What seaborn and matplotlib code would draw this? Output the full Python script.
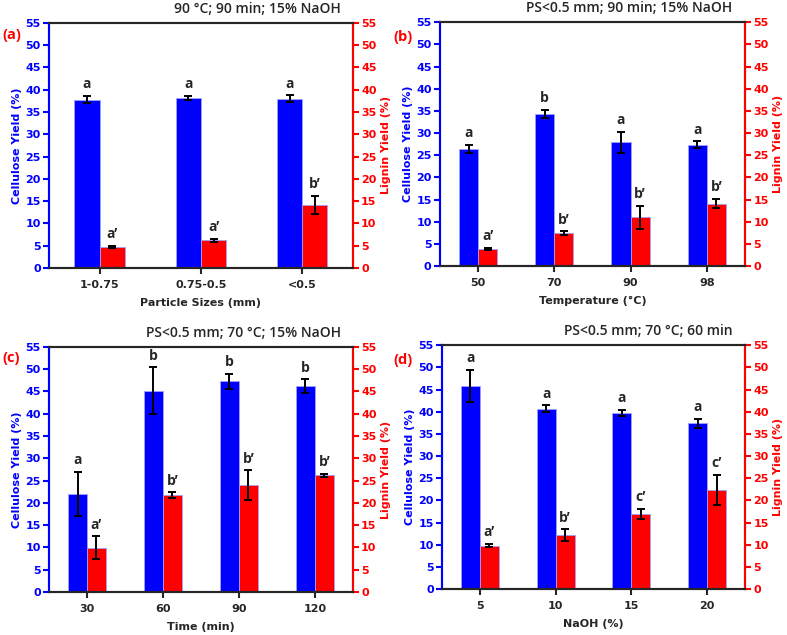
import pandas as pd
import numpy as np
import matplotlib.pyplot as plt
import seaborn as sns

# panel (a) - particle size
ps_cats = ["1-0.75", "0.75-0.5", "<0.5"]
ps_cel = [37.8, 38.1, 38.0]
ps_cel_err = [0.8, 0.5, 0.8]
ps_lig = [4.7, 6.2, 14.2]
ps_lig_err = [0.3, 0.4, 2.0]
ps_cel_let = ["a", "a", "a"]
ps_lig_let = ["a\u2019", "a\u2019", "b\u2019"]

# panel (b) - temperature
temp_cats = ["50", "70", "90", "98"]
temp_cel = [26.5, 34.4, 27.9, 27.4]
temp_cel_err = [0.9, 0.9, 2.4, 0.8]
temp_lig = [3.9, 7.4, 11.0, 14.1]
temp_lig_err = [0.2, 0.4, 2.6, 1.1]
temp_cel_let = ["a", "b", "a", "a"]
temp_lig_let = ["a\u2019", "b\u2019", "b\u2019", "b\u2019"]

# panel (c) - time
time_cats = ["30", "60", "90", "120"]
time_cel = [22.0, 45.2, 47.3, 46.2]
time_cel_err = [5.0, 5.2, 1.7, 1.6]
time_lig = [9.9, 21.7, 24.0, 26.2]
time_lig_err = [2.6, 0.7, 3.3, 0.3]
time_cel_let = ["a", "b", "b", "b"]
time_lig_let = ["a\u2019", "b\u2019", "b\u2019", "b\u2019"]

# panel (d) - NaOH
naoh_cats = ["5", "10", "15", "20"]
naoh_cel = [45.8, 40.7, 39.7, 37.4]
naoh_cel_err = [3.7, 0.8, 0.7, 1.0]
naoh_lig = [9.8, 12.2, 17.0, 22.4]
naoh_lig_err = [0.4, 1.3, 1.1, 3.4]
naoh_cel_let = ["a", "a", "a", "a"]
naoh_lig_let = ["a\u2019", "b\u2019", "c\u2019", "c\u2019"]

sns.set_style("ticks")
plt.rcParams["font.family"] = ["DejaVu Sans"]

BLUE = "#0000FF"
RED = "#FF0000"
OPEN = ["Open Sans", "DejaVu Sans"]

fig = plt.figure(figsize=(7.87, 6.35), dpi=100)

panels = [
    ("(a)", "90 \u00b0C; 90 min; 15% NaOH", "Particle Sizes (mm)", ps_cats,
     ps_cel, ps_cel_err, ps_lig, ps_lig_err, ps_cel_let, ps_lig_let,
     [0.0623, 0.578, 0.386, 0.386], (0.003, 0.945)),
    ("(b)", "PS<0.5 mm; 90 min; 15% NaOH", "Temperature (\u00b0C)", temp_cats,
     temp_cel, temp_cel_err, temp_lig, temp_lig_err, temp_cel_let, temp_lig_let,
     [0.559, 0.581, 0.3875, 0.384], (0.4995, 0.942)),
    ("(c)", "PS<0.5 mm; 70 \u00b0C; 15% NaOH", "Time (min)", time_cats,
     time_cel, time_cel_err, time_lig, time_lig_err, time_cel_let, time_lig_let,
     [0.0623, 0.0677, 0.386, 0.386], (0.003, 0.436)),
    ("(d)", "PS<0.5 mm; 70 \u00b0C; 60 min", "NaOH (%)", naoh_cats,
     naoh_cel, naoh_cel_err, naoh_lig, naoh_lig_err, naoh_cel_let, naoh_lig_let,
     [0.5616, 0.0724, 0.385, 0.384], (0.4995, 0.433)),
]

for (tag, title, xlab, cats, cel, cel_err, lig, lig_err,
     cel_let, lig_let, pos, tagpos) in panels:
    ax = fig.add_axes(pos)
    df = pd.DataFrame({
        "cat": cats * 2,
        "val": cel + lig,
        "err": cel_err + lig_err,
        "let": cel_let + lig_let,
        "series": ["Cellulose"] * len(cats) + ["Lignin"] * len(cats),
    })
    sns.barplot(data=df, x="cat", y="val", hue="series", ax=ax,
                palette=[BLUE, RED], saturation=1, width=0.5,
                errorbar=None, legend=False, edgecolor="#a0a0ff", linewidth=0.6)

    # error bars + significance letters
    for cont, s in zip(ax.containers, ["Cellulose", "Lignin"]):
        sub = df[df["series"] == s]
        for bar, (_, row) in zip(cont, sub.iterrows()):
            xc = bar.get_x() + bar.get_width() / 2
            h = bar.get_height()
            ax.errorbar(xc, h, yerr=row["err"], fmt="none", ecolor="black",
                        elinewidth=1.4, capsize=3, capthick=1.4, zorder=5)
            ax.text(xc, h + row["err"] + 1.0, row["let"], ha="center",
                    va="bottom", fontsize=10, fontweight="bold", family=OPEN)

    ax.set_xlim(-0.5, len(cats) - 0.5)
    ax.set_ylim(0, 55)
    ax.set_yticks(np.arange(0, 56, 5))
    ax.set_xlabel(xlab, fontsize=8, fontweight="bold", labelpad=6)
    ax.set_ylabel("Cellulose Yield (%)", fontsize=8, fontweight="bold",
                  color=BLUE, labelpad=2)
    ax.tick_params(axis="y", colors=BLUE, labelsize=8, width=1.5, length=4.5,
                   pad=1.5)
    ax.tick_params(axis="x", labelsize=8, width=1.5, length=4.5, pad=4)
    for lab in ax.get_yticklabels() + ax.get_xticklabels():
        lab.set_fontweight("bold")
    ax.spines["left"].set_color(BLUE)
    for sp in ax.spines.values():
        sp.set_linewidth(1.5)

    ax2 = ax.twinx()
    ax2.set_ylim(0, 55)
    ax2.set_yticks(np.arange(0, 56, 5))
    ax2.set_ylabel("Lignin Yield (%)", fontsize=8, fontweight="bold",
                   color=RED, labelpad=3)
    ax2.tick_params(axis="y", colors=RED, labelsize=8, width=1.5, length=4.5,
                    pad=1.5)
    for lab in ax2.get_yticklabels():
        lab.set_fontweight("bold")
    ax2.spines["right"].set_color(RED)
    ax2.spines["left"].set_color(BLUE)
    for sp in ax2.spines.values():
        sp.set_linewidth(1.5)

    ax.text(0.96, 1.03, title, transform=ax.transAxes, ha="right",
            va="bottom", fontsize=10, fontweight="semibold", family=OPEN)
    fig.text(tagpos[0], tagpos[1], tag, ha="left", va="center",
             fontsize=10.5, fontweight="bold", color=RED, family=OPEN)

fig.savefig("out.png", dpi=100)
